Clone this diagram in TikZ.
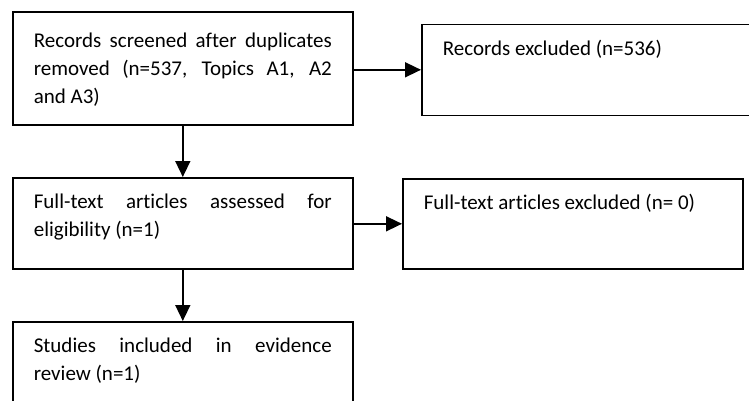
\documentclass[tikz,border=0pt]{standalone}
\usepackage{fontspec}
\setmainfont{Carlito}[Ligatures=NoCommon]
\usetikzlibrary{arrows.meta}
\begin{document}
\begin{tikzpicture}[x=1pt,y=-1pt,
  flowbox/.style={draw,line width=1.6pt,anchor=north west,align=justify,
    text width=298pt,inner xsep=21pt,inner ysep=16pt,
    text height=15pt,text depth=44pt,font=\fontsize{21}{28}\selectfont},
  flowarrow/.style={line width=1.6pt,-{Triangle[length=16pt,width=15pt]}}]
  \useasboundingbox (0,0) rectangle (749,400);
  \clip (0,0) rectangle (749,400);
  % left column
  \node[flowbox,text height=20pt,text depth=61pt] (screened) at (12,11)
    {Records screened after duplicates\linebreak removed (n=537, Topics A1, A2\linebreak and A3)};
  \node[flowbox] (fulltext) at (12,177)
    {Full-text articles assessed for\linebreak eligibility (n=1)};
  \node[flowbox] (included) at (12,321)
    {Studies included in evidence\linebreak review (n=1)};
  % right column
  \node[flowbox] (recexcl) at (421,23.5) {Records excluded (n=536)};
  \node[flowbox,text depth=43pt] (ftexcl) at (402,178) {Full-text articles excluded (n= 0)};
  % connectors
  \draw[flowarrow] (screened.east |- recexcl.west) -- (recexcl.west);
  \draw[flowarrow] (screened.south) -- (fulltext.north);
  \draw[flowarrow] (fulltext.east |- ftexcl.west) -- (ftexcl.west);
  \draw[flowarrow] (fulltext.south) -- (included.north);
\end{tikzpicture}
\end{document}
